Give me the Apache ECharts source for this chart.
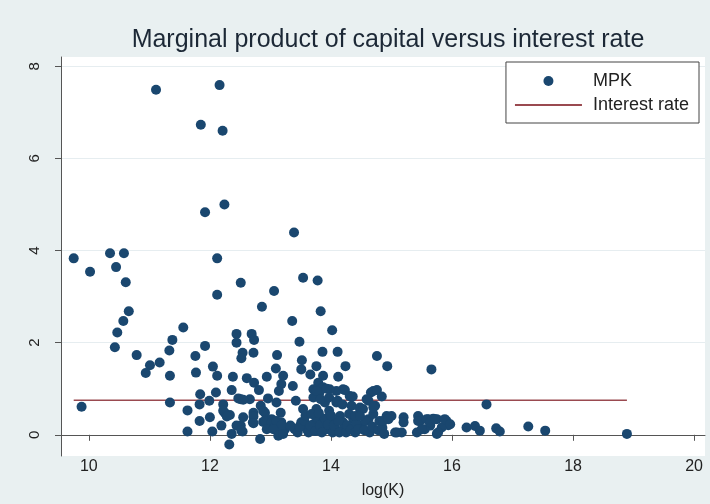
<!DOCTYPE html>
<html>
<head>
<meta charset="utf-8">
<script src="https://cdn.jsdelivr.net/npm/echarts@6/dist/echarts.min.js"></script>
<style>
  html, body { margin: 0; padding: 0; background: #e9f0f1; }
  #chart { width: 710px; height: 504px; }
</style>
</head>
<body>
<div id="chart"></div>
<script>
// Firm-level observations: [log(K), MPK]
const mpkByLogK = [
  [11.11,7.49],[12.16,7.59],[11.85,6.73],[12.21,6.60],[12.24,5.00],[11.92,4.83],[13.39,4.39],
  [9.75,3.83],[10.35,3.94],[10.58,3.94],[12.12,3.83],[10.02,3.54],[10.45,3.64],[10.61,3.31],
  [10.66,2.68],[10.57,2.47],[10.47,2.22],[10.43,1.90],[10.79,1.73],[11.56,2.33],[11.38,2.06],
  [11.33,1.83],[11.17,1.57],[11.01,1.51],[10.94,1.34],[11.34,1.28],[11.34,0.70],[9.88,0.61],
  [11.63,0.53],[11.63,0.07],[11.76,1.71],[11.77,1.35],[11.92,1.93],[12.05,1.48],[12.12,1.28],
  [12.12,3.04],[12.51,3.30],[13.06,3.12],[12.86,2.78],[13.54,3.41],[13.78,3.35],[13.83,2.68],
  [13.36,2.47],[14.02,2.27],[13.48,2.02],[12.44,2.19],[12.44,2.00],[12.69,2.19],[12.73,2.06],
  [12.54,1.78],[12.52,1.66],[12.72,1.78],[13.11,1.73],[13.86,1.80],[14.11,1.80],[13.52,1.62],
  [13.51,1.42],[13.76,1.49],[14.24,1.49],[14.76,1.71],[14.93,1.49],[15.66,1.42],[13.09,1.44],
  [13.21,1.28],[12.38,1.26],[12.61,1.23],[12.73,1.13],[12.94,1.26],[12.81,0.97],[13.18,1.10],
  [13.14,0.95],[13.37,1.06],[13.66,1.31],[13.87,1.28],[14.12,1.26],[13.79,1.13],[12.36,0.97],
  [12.10,0.92],[11.84,0.88],[11.83,0.66],[11.99,0.74],[12.51,0.77],[12.66,0.77],[12.96,0.79],
  [13.10,0.70],[13.42,0.74],[13.71,0.81],[12.22,0.66],[11.83,0.30],[12.00,0.38],[12.04,0.07],
  [12.19,0.20],[12.25,0.47],[12.33,0.43],[12.36,0.02],[12.32,-0.21],[12.51,0.20],[12.54,0.07],
  [12.55,0.38],[12.71,0.27],[12.72,0.48],[12.83,-0.09],[12.84,0.63],[12.91,0.48],[12.88,0.28],
  [13.02,0.34],[13.07,0.20],[13.16,0.02],[13.18,0.27],[13.24,0.12],[13.17,0.48],[13.40,0.12],
  [13.51,0.27],[13.60,0.12],[13.71,0.23],[13.76,0.38],[13.79,0.12],[13.87,0.27],[13.97,0.52],
  [13.93,0.12],[14.01,0.30],[14.07,0.12],[14.15,0.41],[14.20,0.27],[14.20,0.12],[14.31,0.84],
  [14.34,0.63],[14.37,0.34],[14.48,0.56],[14.51,0.20],[14.64,0.05],[14.62,0.34],[14.73,0.63],
  [14.66,0.92],[14.62,0.74],[14.20,0.99],[14.09,0.95],[13.98,0.99],[13.87,1.03],[13.90,0.70],
  [14.09,0.70],[13.76,0.56],[13.54,0.56],[13.81,0.92],
  [13.71,0.99],[13.76,0.95],[13.93,1.00],[14.23,0.97],[12.47,0.79],[12.55,0.76],[12.88,0.52],
  [12.22,0.52],[12.28,0.40],[12.72,0.40],[12.72,0.25],[12.44,0.20],[12.52,0.09],
  [12.91,0.30],[13.02,0.27],[13.10,0.30],[13.18,0.20],[12.94,0.12],[13.05,0.12],[13.13,-0.02],
  [13.21,0.02],[13.83,0.77],[13.97,0.81],[14.11,0.74],[14.19,0.66],
  [13.33,0.20],[13.45,0.05],[13.48,0.18],[13.56,0.30],[13.63,0.05],[13.66,0.20],[13.74,0.08],
  [13.82,0.20],[13.85,0.05],[13.90,0.35],[13.95,0.22],[14.03,0.05],[14.05,0.20],[14.12,0.30],
  [14.14,0.05],[14.25,0.05],[14.27,0.20],[14.33,0.12],[14.40,0.05],[14.42,0.25],[14.45,0.12],
  [14.55,0.10],[14.57,0.30],[14.68,0.18],[14.70,0.45],[14.78,0.10],[14.80,0.30],[14.85,0.15],
  [14.88,0.02],[13.58,0.42],[13.68,0.45],[13.80,0.47],[14.00,0.42],[14.30,0.45],[14.40,0.41],
  [14.36,0.83],[14.70,0.95],[14.76,0.97],[14.84,0.83],[14.59,0.77],[16.57,0.66],[14.48,0.59],
  [14.53,0.56],[14.70,0.59],[14.48,0.41],[14.92,0.41],[15.00,0.41],[14.86,0.30],[14.95,0.34],
  [15.20,0.38],[15.20,0.27],[15.44,0.41],[15.47,0.30],[15.61,0.34],[15.69,0.35],[15.75,0.34],
  [15.91,0.30],[15.94,0.21],[15.09,0.05],[15.17,0.05],[15.42,0.05],[15.55,0.12],[15.64,0.20],
  [15.75,0.02],[15.83,0.16],[16.24,0.16],[16.38,0.19],[16.46,0.09],[16.73,0.14],[16.79,0.07],
  [17.26,0.18],[17.54,0.09],[18.89,0.02],
  [15.06,0.05],[15.44,0.30],[15.50,0.12],[15.58,0.34],[15.64,0.27],[15.72,0.34],[15.77,0.05],
  [15.88,0.34],[15.97,0.23]
];

// Constant interest rate, drawn across the observed range of log(K)
const interestRate = 0.75;

// Axis ticks
const xTicks = [10, 12, 14, 16, 18, 20];
const yTicks = [0, 2, 4, 6, 8];

const logKs = mpkByLogK.map(p => p[0]);
const rateLine = [
  [Math.min(...logKs), interestRate],
  [Math.max(...logKs), interestRate]
];

const FONT = '"Liberation Sans", Arial, sans-serif';
const NAVY = '#1a476f';
const MAROON = '#9a4a50';
const chart = echarts.init(document.getElementById('chart'), null, { renderer: 'canvas' });

chart.setOption({
  backgroundColor: '#e9f0f1',
  animation: false,
  textStyle: { fontFamily: FONT },
  title: {
    text: 'Marginal product of capital versus interest rate',
    left: 383,
    textAlign: 'center',
    top: 23,
    textStyle: { fontFamily: FONT, fontSize: 25, fontWeight: 'normal', color: '#1c2836' }
  },
  legend: {
    orient: 'vertical',
    right: 11,
    top: 62,
    padding: [10, 10, 9, 9],
    itemGap: 6,
    itemWidth: 67,
    itemHeight: 10,
    backgroundColor: '#ffffff',
    borderColor: '#444444',
    borderWidth: 1,
    borderRadius: 0,
    textStyle: { fontFamily: FONT, fontSize: 18, color: '#222222', padding: [0, 0, 0, 6] },
    data: [
      { name: 'MPK', icon: 'circle', itemStyle: { color: NAVY } },
      { name: 'Interest rate', icon: 'path://M0,0 L67,0 L67,2 L0,2 Z', itemStyle: { color: MAROON } }
    ]
  },
  grid: {
    left: 61, right: 5, top: 57, bottom: 47,
    show: true, backgroundColor: '#ffffff', borderWidth: 0
  },
  xAxis: {
    type: 'value',
    min: 9.54,
    max: 20.18,
    name: 'log(K)',
    nameLocation: 'middle',
    nameGap: 27,
    nameTextStyle: { fontFamily: FONT, fontSize: 16, color: '#222222' },
    axisLine: { show: true, lineStyle: { color: '#555555', width: 1 } },
    axisTick: { show: true, length: 6, customValues: xTicks, lineStyle: { color: '#555555' } },
    axisLabel: { customValues: xTicks, fontSize: 16, color: '#222222', margin: 3, fontFamily: FONT },
    splitLine: { show: false }
  },
  yAxis: {
    type: 'value',
    min: -0.46,
    max: 8.2,
    axisLine: { show: true, lineStyle: { color: '#555555', width: 1 } },
    axisTick: { show: true, length: 6, customValues: yTicks, lineStyle: { color: '#555555' } },
    axisLabel: { customValues: yTicks, rotate: 90, fontSize: 15, color: '#222222', margin: 19, fontFamily: FONT },
    splitLine: { show: true, lineStyle: { color: '#e6edf0', width: 1 } }
  },
  series: [
    {
      name: 'MPK',
      type: 'scatter',
      data: mpkByLogK,
      symbol: 'circle',
      symbolSize: 10,
      itemStyle: { color: NAVY, opacity: 1 },
      z: 3
    },
    {
      name: 'Interest rate',
      type: 'line',
      data: rateLine,
      symbol: 'none',
      showSymbol: false,
      lineStyle: { color: MAROON, width: 1.6 },
      itemStyle: { color: MAROON },
      z: 2
    }
  ]
});
</script>
</body>
</html>
